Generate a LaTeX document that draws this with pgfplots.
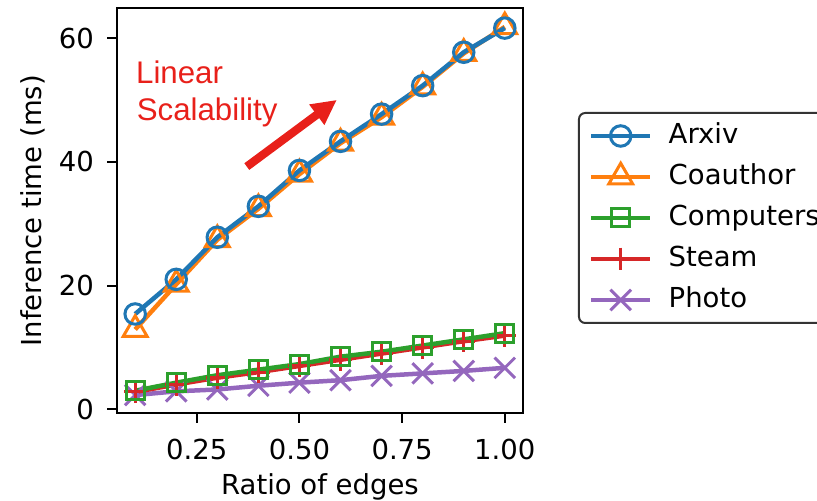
\documentclass[border=0pt]{standalone}
\usepackage{fontspec}
\setmainfont{DejaVu Sans}
\newfontfamily\annfont{Liberation Sans}
\usepackage{pgfplots}
\pgfplotsset{compat=1.18}
\usetikzlibrary{arrows.meta}

\definecolor{tabblue}{HTML}{1F77B4}
\definecolor{taborange}{HTML}{FF7F0E}
\definecolor{tabgreen}{HTML}{2CA02C}
\definecolor{tabred}{HTML}{D62728}
\definecolor{tabpurple}{HTML}{9467BD}
\definecolor{annred}{RGB}{232,32,26}

\begin{document}
\begin{tikzpicture}
\begin{axis}[
  at={(46.68pt,35.08pt)}, anchor=south west,
  scale only axis, width=162.64pt, height=162pt,
  xmin=0.055, xmax=1.045, ymin=-0.65, ymax=64.8,
  xtick={0.25,0.5,0.75,1}, ytick={0,20,40,60},
  xticklabel style={/pgf/number format/fixed, /pgf/number format/fixed zerofill,
    /pgf/number format/precision=2, yshift=-2.2pt},
  /pgf/number format/assume math mode=true,
  tick pos=left, tick align=outside, major tick length=3.7pt,
  tick style={black, line width=0.8pt},
  axis line style={line width=0.8pt},
  tick label style={font=\fontsize{11}{13}\selectfont},
  yticklabel style={xshift=-1.2pt},
  xlabel={Ratio of edges},
  ylabel={Inference time (ms)},
  every axis x label/.style={at={(axis description cs:0.5,-0.2017)}, anchor=base,
    font=\fontsize{11}{13}\selectfont},
  every axis y label/.style={at={(axis description cs:-0.1845,0.5)}, rotate=90, anchor=base,
    font=\fontsize{11}{13}\selectfont},
  legend cell align=left, reverse legend,
  legend style={at={(1.1345,0.744)}, anchor=north west, draw=black!80,
    line width=0.8pt, rounded corners=2.5pt, inner xsep=4pt, inner ysep=1pt,
    row sep=0pt, column sep=0pt, font=\fontsize{11}{13}\selectfont,
    nodes={inner sep=0pt, text height=11.4pt, text depth=5pt}},
  legend image code/.code={
    \draw[line width=1.8pt, mark repeat=2, mark phase=2]
      plot coordinates {(0pt,0pt)(11.8pt,0pt)(23.6pt,0pt)};
    \path (30.6pt,0pt);
  },
  line width=1.8pt,
]
% Photo
\addplot[tabpurple, mark=x, mark size=5.8pt, mark options={line width=1.2pt}]
  coordinates {(0.1,2.3)(0.2,2.9)(0.3,3.2)(0.4,3.8)(0.5,4.3)(0.6,4.7)(0.7,5.4)(0.8,5.8)(0.9,6.2)(1.0,6.7)};
\addlegendentry{Photo}
% Steam
\addplot[tabred, mark=+, mark size=4.5pt, mark options={line width=1.2pt}]
  coordinates {(0.1,2.8)(0.2,4.0)(0.3,5.1)(0.4,6.0)(0.5,7.0)(0.6,8.0)(0.7,9.0)(0.8,10.0)(0.9,11.0)(1.0,11.9)};
\addlegendentry{Steam}
% Computers
\addplot[tabgreen, mark=square, mark size=3.6pt, mark options={line width=1.2pt, fill=none}]
  coordinates {(0.1,3.0)(0.2,4.3)(0.3,5.5)(0.4,6.4)(0.5,7.3)(0.6,8.5)(0.7,9.3)(0.8,10.3)(0.9,11.3)(1.0,12.3)};
\addlegendentry{Computers}
% Coauthor
\addplot[taborange, mark=triangle, mark size=5.5pt, mark options={line width=1.2pt, fill=none}]
  coordinates {(0.1,12.9)(0.2,20.2)(0.3,27.4)(0.4,32.4)(0.5,38.0)(0.6,43.0)(0.7,47.2)(0.8,52.1)(0.9,57.5)(1.0,61.8)};
\addlegendentry{Coauthor}
% Arxiv
\addplot[tabblue, mark=o, mark size=4.1pt, mark options={line width=1.2pt, fill=none}]
  coordinates {(0.1,15.4)(0.2,21.0)(0.3,27.8)(0.4,32.8)(0.5,38.6)(0.6,43.3)(0.7,47.7)(0.8,52.3)(0.9,57.7)(1.0,61.6)};
\addlegendentry{Arxiv}

\node[anchor=base west, inner sep=0pt, text=annred, font=\annfont\fontsize{12.5}{15}\selectfont]
  at (axis cs:0.0969,52.71) {Linear};
\node[anchor=base west, inner sep=0pt, text=annred, font=\annfont\fontsize{12.5}{15}\selectfont]
  at (axis cs:0.0985,46.69) {Scalability};
\draw[annred, line width=3.3pt, -{Triangle[length=10pt, width=9.5pt]}]
  (axis cs:0.3718,39.22) -- (axis cs:0.591,50.0);
\end{axis}
\pgfresetboundingbox
\useasboundingbox (0,0) rectangle (326.8pt,200.4pt);
\end{tikzpicture}
\end{document}
